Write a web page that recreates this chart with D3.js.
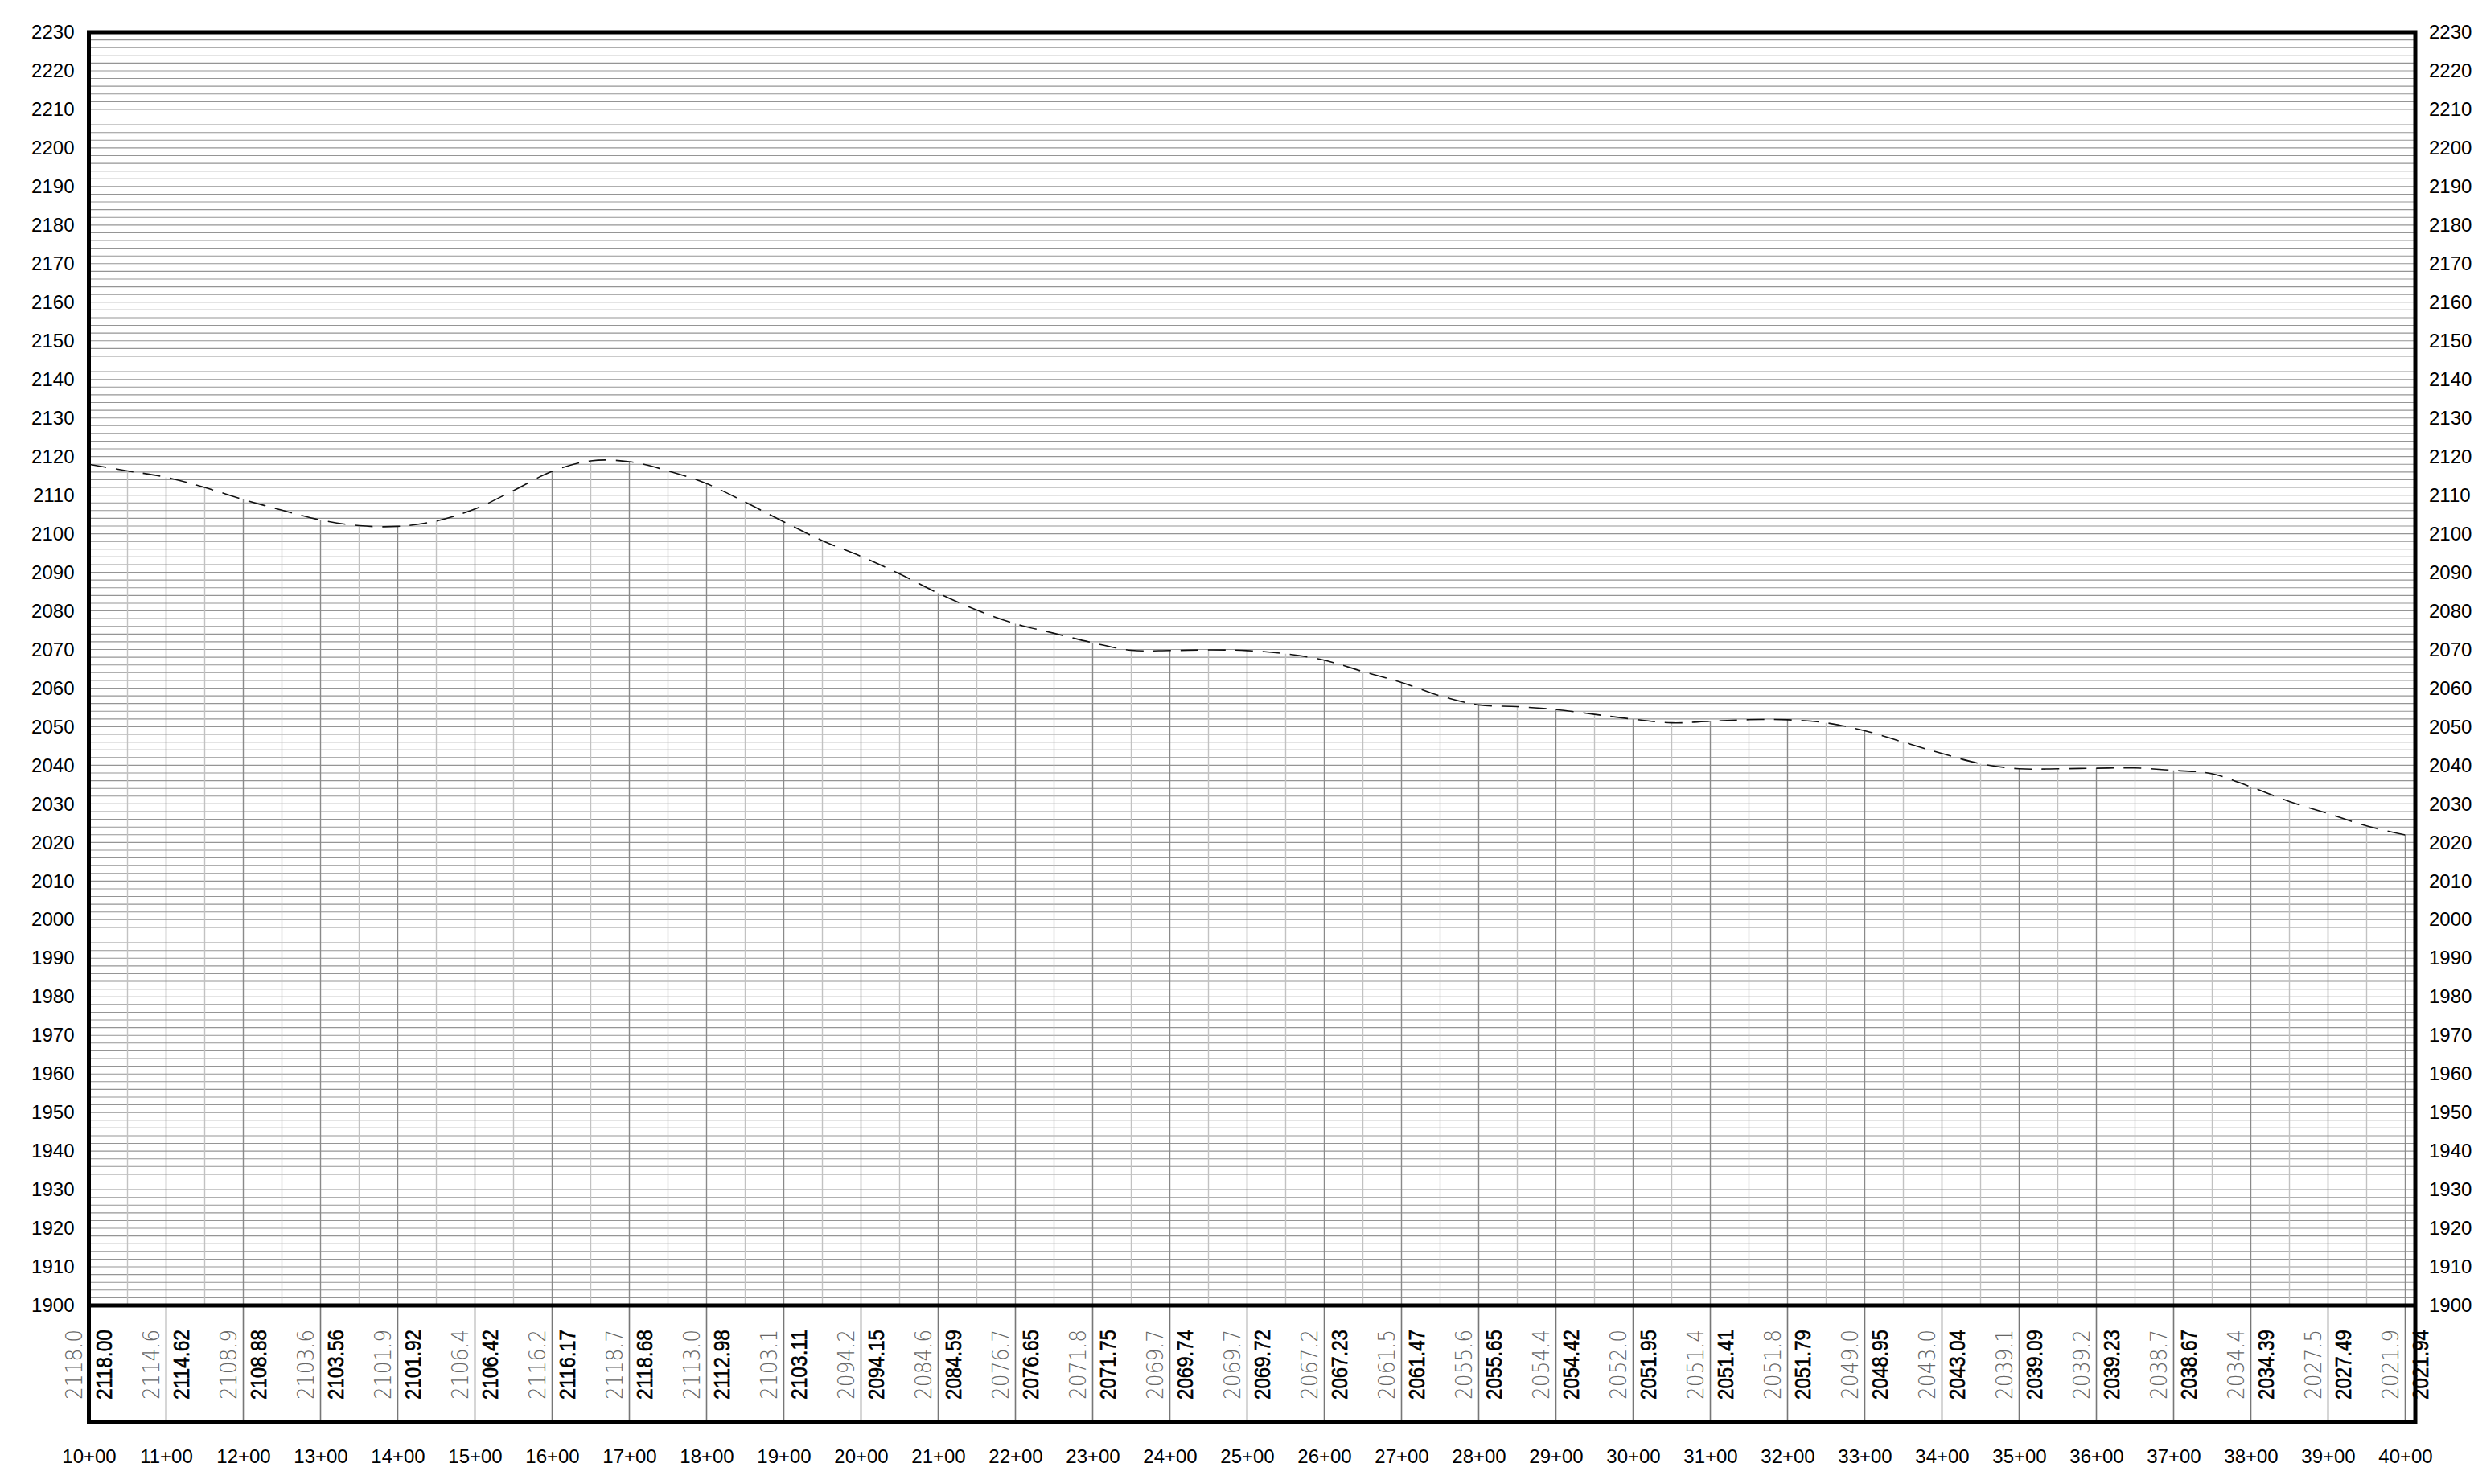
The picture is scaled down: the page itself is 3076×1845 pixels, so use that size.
<!DOCTYPE html>
<html>
<head>
<meta charset="utf-8">
<script src="https://cdn.jsdelivr.net/npm/d3@7"></script>
<style>
  html, body { margin: 0; padding: 0; background: #fff; }
  svg { display: block; }
</style>
</head>
<body>
<svg id="profile" width="3076" height="1845"></svg>
<script>
// Full stations (hundreds of feet) and their printed labels
const stations = [10, 11, 12, 13, 14, 15, 16, 17, 18, 19, 20, 21, 22, 23, 24, 25,
                  26, 27, 28, 29, 30, 31, 32, 33, 34, 35, 36, 37, 38, 39, 40];
const stationLabels = ["10+00", "11+00", "12+00", "13+00", "14+00", "15+00", "16+00", "17+00",
                       "18+00", "19+00", "20+00", "21+00", "22+00", "23+00", "24+00", "25+00",
                       "26+00", "27+00", "28+00", "29+00", "30+00", "31+00", "32+00", "33+00",
                       "34+00", "35+00", "36+00", "37+00", "38+00", "39+00", "40+00"];

// Design elevations at full stations (dark row)
const designElev = [2118.00, 2114.62, 2108.88, 2103.56, 2101.92, 2106.42, 2116.17, 2118.68,
                    2112.98, 2103.11, 2094.15, 2084.59, 2076.65, 2071.75, 2069.74, 2069.72,
                    2067.23, 2061.47, 2055.65, 2054.42, 2051.95, 2051.41, 2051.79, 2048.95,
                    2043.04, 2039.09, 2039.23, 2038.67, 2034.39, 2027.49, 2021.94];

// Ground elevations at full stations (light row, one decimal)
const groundElev = [2118.0, 2114.6, 2108.9, 2103.6, 2101.9, 2106.4, 2116.2, 2118.7,
                    2113.0, 2103.1, 2094.2, 2084.6, 2076.7, 2071.8, 2069.7, 2069.7,
                    2067.2, 2061.5, 2055.6, 2054.4, 2052.0, 2051.4, 2051.8, 2049.0,
                    2043.0, 2039.1, 2039.2, 2038.7, 2034.4, 2027.5, 2021.9];

// Profile elevations at the half stations (10+50, 11+50, ... 39+50)
const halfStationElev = [2116.3, 2112.0, 2106.1, 2102.1, 2103.3, 2111.2, 2118.9, 2116.3,
                         2108.2, 2098.2, 2089.6, 2080.2, 2074.2, 2069.8, 2069.9, 2068.9,
                         2064.3, 2058.0, 2055.2, 2053.2, 2051.0, 2051.8, 2051.0, 2046.0,
                         2040.4, 2039.1, 2039.3, 2037.8, 2030.6, 2024.3];

// Elevation axis
const elevDomain = [1900, 2230];
const elevTickStep = 10;
const elevGridStep = 2;

// ---- layout ----
const frameLeft = 110.5, stationEnd = 2990.5, frameRight = 3003;
const frameTop = 40, plotBottom = 1623, tableBottom = 1768;

const svg = d3.select("#profile");
const x = d3.scaleLinear().domain([10, 40]).range([frameLeft, stationEnd]);
const y = d3.scaleLinear().domain(elevDomain).range([plotBottom, frameTop]);

// profile points: full stations interleaved with half stations
const profile = [];
stations.forEach((s, i) => {
  profile.push({ s: s, e: designElev[i], full: true });
  if (i < halfStationElev.length) profile.push({ s: s + 0.5, e: halfStationElev[i], full: false });
});

// horizontal grid every 2 units
const gridVals = d3.range(elevDomain[0] + elevGridStep, elevDomain[1], elevGridStep);
svg.append("g").selectAll("line").data(gridVals).join("line")
  .attr("x1", frameLeft).attr("x2", frameRight)
  .attr("y1", d => y(d)).attr("y2", d => y(d))
  .attr("stroke", "#959595").attr("stroke-width", 1.1);

// vertical station lines, up to the profile
svg.append("g").selectAll("line").data(profile).join("line")
  .attr("x1", d => x(d.s)).attr("x2", d => x(d.s))
  .attr("y1", y(elevDomain[0])).attr("y2", d => y(d.e))
  .attr("stroke", d => d.full ? "#8a8a8a" : "#c2c2c2")
  .attr("stroke-width", 1.4);

// dashed profile line
const line = d3.line().x(d => x(d.s)).y(d => y(d.e)).curve(d3.curveCatmullRom.alpha(0.5));
svg.append("path").datum(profile)
  .attr("d", line)
  .attr("fill", "none")
  .attr("stroke", "#111")
  .attr("stroke-width", 1.6)
  .attr("stroke-dasharray", "22 12");

// table separators at full stations
svg.append("g").selectAll("line").data(stations).join("line")
  .attr("x1", d => x(d)).attr("x2", d => x(d))
  .attr("y1", plotBottom).attr("y2", tableBottom)
  .attr("stroke", "#777").attr("stroke-width", 1.6);

// frame
svg.append("rect")
  .attr("x", frameLeft).attr("y", frameTop)
  .attr("width", frameRight - frameLeft).attr("height", tableBottom - frameTop)
  .attr("fill", "none").attr("stroke", "#000").attr("stroke-width", 5);
svg.append("line")
  .attr("x1", frameLeft).attr("x2", frameRight)
  .attr("y1", plotBottom).attr("y2", plotBottom)
  .attr("stroke", "#000").attr("stroke-width", 5);

// elevation labels on both sides
const elevTicks = d3.range(elevDomain[0], elevDomain[1] + 1, elevTickStep);
const axisFont = "'Liberation Sans', Arial, sans-serif";
const leftAxis = svg.append("g").attr("transform", `translate(${frameLeft},0)`)
  .call(d3.axisLeft(y).tickValues(elevTicks).tickSize(0).tickPadding(18).tickFormat(d3.format("d")));
const rightAxis = svg.append("g").attr("transform", `translate(${frameRight},0)`)
  .call(d3.axisRight(y).tickValues(elevTicks).tickSize(0).tickPadding(17).tickFormat(d3.format("d")));
[leftAxis, rightAxis].forEach(g => {
  g.select(".domain").remove();
  g.selectAll("text").attr("font-family", axisFont).attr("font-size", 24).attr("fill", "#000");
});

// station labels below the table
const stationAxis = svg.append("g").attr("transform", `translate(0,${tableBottom})`)
  .call(d3.axisBottom(x).tickValues(stations).tickSize(0).tickPadding(34)
    .tickFormat((d, i) => stationLabels[i]));
stationAxis.select(".domain").remove();
stationAxis.selectAll("text").attr("font-family", axisFont).attr("font-size", 24).attr("fill", "#000");

// elevation values in the table (vertical text)
const labelBase = 1740, labelLen = 87;
svg.append("g").selectAll("text").data(stations).join("text")
  .attr("transform", d => `translate(${x(d) - 19},${labelBase}) rotate(-90)`)
  .attr("dy", "0.36em")
  .attr("font-family", "'DejaVu Sans', sans-serif")
  .attr("font-weight", 200)
  .attr("font-size", 28)
  .attr("fill", "#666")
  .attr("textLength", labelLen).attr("lengthAdjust", "spacingAndGlyphs")
  .text((d, i) => groundElev[i].toFixed(1));

svg.append("g").selectAll("text").data(stations).join("text")
  .attr("transform", d => `translate(${x(d) + 19},${labelBase}) rotate(-90)`)
  .attr("dy", "0.36em")
  .attr("font-family", axisFont)
  .attr("font-size", 27)
  .attr("fill", "#000")
  .attr("stroke", "#000").attr("stroke-width", 0.6)
  .attr("textLength", labelLen).attr("lengthAdjust", "spacingAndGlyphs")
  .text((d, i) => designElev[i].toFixed(2));
</script>
</body>
</html>
